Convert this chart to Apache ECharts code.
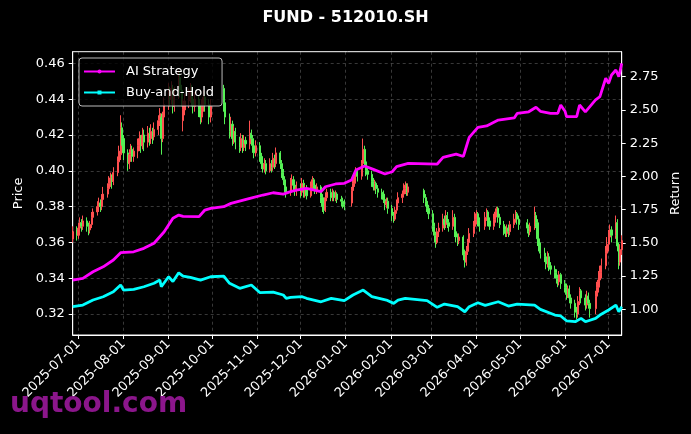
<!DOCTYPE html>
<html>
<head>
<meta charset="utf-8">
<script src="https://cdn.jsdelivr.net/npm/echarts@6/dist/echarts.min.js"></script>
<style>
html,body{margin:0;padding:0;background:#000;}
#main{width:691px;height:434px;}
</style>
</head>
<body>
<div id="main"></div>
<script>
// axis range (calendar days) and exchange holidays
var startDay = '2025-06-27';
var endDay = '2026-07-10';
var holidays = ['2025-10-01','2025-10-02','2025-10-03','2025-10-06','2025-10-07','2025-10-08',
	'2026-01-01','2026-01-02','2026-02-16','2026-02-17','2026-02-18','2026-02-19','2026-02-20','2026-02-23',
	'2026-04-06','2026-05-01','2026-05-04','2026-05-05','2026-06-19'];

// daily candles, one row per trading day: [open, close, low, high]
var candles = [
	// 2025-06
	[0.362,0.366,0.360,0.369],[0.367,0.364,0.361,0.369],
	// 2025-07
	[0.364,0.368,0.362,0.371],[0.368,0.371,0.366,0.374],[0.371,0.369,0.366,0.373],[0.369,0.372,0.367,0.375],
	[0.372,0.369,0.366,0.374],[0.369,0.367,0.364,0.371],[0.367,0.370,0.365,0.372],[0.370,0.374,0.368,0.377],[0.374,0.377,0.372,0.379],
	[0.377,0.380,0.375,0.383],[0.380,0.382,0.377,0.385],[0.382,0.380,0.377,0.384],[0.380,0.384,0.378,0.387],[0.384,0.387,0.382,0.391],
	[0.387,0.390,0.385,0.393],[0.390,0.393,0.388,0.397],[0.393,0.396,0.391,0.399],[0.396,0.394,0.390,0.398],[0.394,0.399,0.392,0.402],
	[0.399,0.405,0.397,0.408],[0.405,0.411,0.403,0.414],[0.409,0.424,0.406,0.431],[0.424,0.418,0.414,0.427],
	// 2025-08
	[0.418,0.410,0.406,0.420],
	[0.410,0.404,0.400,0.412],[0.404,0.409,0.401,0.412],[0.409,0.412,0.405,0.415],[0.412,0.408,0.405,0.414],[0.408,0.411,0.405,0.413],
	[0.411,0.414,0.407,0.418],[0.414,0.418,0.411,0.422],[0.418,0.414,0.410,0.420],[0.414,0.420,0.412,0.424],[0.420,0.416,0.411,0.423],
	[0.416,0.421,0.413,0.425],[0.421,0.418,0.414,0.424],[0.418,0.422,0.415,0.426],[0.422,0.419,0.415,0.424],[0.419,0.423,0.417,0.427],
	[0.423,0.428,0.420,0.431],[0.428,0.432,0.425,0.435],[0.430,0.418,0.409,0.432],[0.418,0.430,0.416,0.433],[0.430,0.437,0.428,0.441],
	// 2025-09
	[0.437,0.444,0.434,0.449],[0.444,0.440,0.436,0.447],[0.440,0.446,0.437,0.450],[0.446,0.436,0.432,0.448],[0.436,0.443,0.433,0.447],
	[0.443,0.452,0.440,0.456],[0.452,0.445,0.441,0.455],[0.445,0.440,0.436,0.448],[0.428,0.434,0.422,0.440],[0.434,0.439,0.431,0.443],
	[0.439,0.442,0.435,0.446],[0.442,0.445,0.438,0.449],[0.445,0.440,0.436,0.448],[0.440,0.436,0.432,0.443],[0.436,0.440,0.433,0.444],
	[0.440,0.434,0.430,0.442],[0.434,0.430,0.426,0.437],[0.430,0.436,0.427,0.440],[0.436,0.441,0.433,0.445],[0.441,0.437,0.433,0.444],
	[0.437,0.430,0.426,0.440],[0.430,0.436,0.427,0.440],
	// 2025-10
	[0.446,0.438,0.433,0.448],[0.438,0.430,0.426,0.440],
	[0.430,0.422,0.418,0.432],[0.422,0.426,0.419,0.430],[0.426,0.418,0.414,0.428],[0.418,0.422,0.415,0.425],[0.422,0.416,0.412,0.424],
	[0.416,0.413,0.410,0.419],[0.413,0.418,0.411,0.421],[0.418,0.413,0.410,0.420],[0.413,0.417,0.411,0.420],[0.417,0.415,0.411,0.419],
	[0.415,0.421,0.412,0.428],[0.421,0.418,0.414,0.423],[0.418,0.414,0.410,0.420],[0.414,0.410,0.407,0.416],[0.410,0.414,0.408,0.417],
	// 2025-11
	[0.414,0.408,0.405,0.416],[0.408,0.404,0.401,0.410],[0.404,0.401,0.399,0.406],[0.401,0.404,0.399,0.407],[0.404,0.400,0.398,0.406],
	[0.400,0.404,0.399,0.407],[0.404,0.402,0.399,0.406],[0.402,0.407,0.400,0.410],[0.407,0.404,0.401,0.409],[0.404,0.410,0.402,0.413],
	[0.410,0.404,0.401,0.411],[0.404,0.399,0.396,0.406],[0.399,0.395,0.392,0.401],[0.395,0.391,0.388,0.397],[0.391,0.388,0.385,0.393],
	[0.388,0.392,0.386,0.396],[0.392,0.395,0.389,0.398],[0.395,0.392,0.389,0.397],[0.392,0.389,0.386,0.394],[0.389,0.391,0.386,0.394],
	// 2025-12
	[0.391,0.388,0.385,0.393],[0.388,0.393,0.386,0.396],[0.393,0.387,0.385,0.395],[0.387,0.390,0.385,0.392],[0.390,0.386,0.384,0.392],
	[0.386,0.391,0.385,0.394],[0.391,0.395,0.389,0.397],[0.395,0.392,0.389,0.396],[0.392,0.389,0.387,0.394],[0.389,0.391,0.387,0.393],
	[0.391,0.385,0.382,0.392],[0.385,0.380,0.377,0.387],[0.380,0.378,0.376,0.383],[0.378,0.385,0.377,0.388],[0.385,0.388,0.383,0.390],
	[0.388,0.385,0.383,0.390],[0.385,0.388,0.383,0.390],[0.388,0.385,0.383,0.389],[0.385,0.387,0.383,0.389],[0.387,0.384,0.382,0.388],
	[0.384,0.383,0.380,0.386],[0.383,0.381,0.379,0.385],[0.381,0.380,0.378,0.384],
	// 2026-01
	[0.382,0.389,0.380,0.391],[0.389,0.393,0.387,0.395],[0.393,0.397,0.391,0.399],[0.397,0.400,0.394,0.402],[0.400,0.397,0.394,0.401],
	[0.397,0.404,0.395,0.406],[0.404,0.412,0.401,0.418],[0.412,0.405,0.402,0.414],[0.405,0.400,0.397,0.407],[0.400,0.398,0.395,0.402],
	[0.398,0.394,0.391,0.400],[0.394,0.391,0.389,0.396],[0.391,0.393,0.389,0.395],[0.393,0.390,0.387,0.394],[0.390,0.388,0.385,0.392],
	[0.388,0.387,0.384,0.390],[0.387,0.384,0.382,0.389],[0.384,0.381,0.378,0.386],[0.381,0.383,0.379,0.385],[0.383,0.379,0.376,0.385],
	// 2026-02
	[0.379,0.375,0.372,0.381],[0.375,0.373,0.371,0.377],[0.373,0.378,0.372,0.380],[0.378,0.382,0.376,0.384],[0.382,0.385,0.380,0.388],
	[0.385,0.387,0.382,0.389],[0.387,0.390,0.385,0.393],[0.390,0.392,0.387,0.394],[0.392,0.388,0.386,0.393],[0.388,0.391,0.386,0.393],
	[0.389,0.385,0.382,0.390],[0.385,0.383,0.380,0.387],[0.383,0.379,0.377,0.385],[0.379,0.376,0.373,0.381],
	// 2026-03
	[0.376,0.369,0.366,0.378],[0.369,0.364,0.360,0.371],[0.364,0.360,0.357,0.366],[0.360,0.366,0.359,0.368],[0.366,0.368,0.363,0.371],
	[0.368,0.373,0.366,0.376],[0.373,0.370,0.367,0.375],[0.370,0.375,0.368,0.378],[0.375,0.371,0.368,0.377],[0.371,0.369,0.366,0.373],
	[0.369,0.374,0.367,0.378],[0.374,0.366,0.363,0.376],[0.366,0.363,0.360,0.368],[0.363,0.361,0.358,0.365],[0.361,0.363,0.359,0.365],
	[0.363,0.353,0.350,0.364],[0.353,0.349,0.346,0.356],[0.349,0.355,0.347,0.358],[0.355,0.360,0.353,0.362],[0.360,0.365,0.358,0.368],
	[0.365,0.369,0.363,0.372],[0.369,0.373,0.367,0.377],
	// 2026-04
	[0.373,0.376,0.370,0.378],[0.376,0.372,0.369,0.377],[0.372,0.369,0.366,0.374],
	[0.369,0.374,0.367,0.377],[0.374,0.377,0.372,0.379],[0.377,0.372,0.369,0.378],[0.372,0.369,0.367,0.374],
	[0.369,0.373,0.367,0.376],[0.373,0.377,0.371,0.379],[0.377,0.379,0.374,0.380],[0.379,0.374,0.371,0.380],[0.374,0.370,0.368,0.376],
	[0.370,0.367,0.364,0.372],[0.367,0.365,0.363,0.369],[0.365,0.368,0.363,0.370],[0.368,0.366,0.363,0.370],[0.366,0.370,0.364,0.372],
	[0.370,0.373,0.368,0.376],[0.373,0.376,0.371,0.378],[0.376,0.373,0.370,0.377],[0.373,0.370,0.367,0.375],
	// 2026-05
	[0.371,0.368,0.365,0.373],[0.368,0.366,0.363,0.370],[0.366,0.369,0.364,0.371],
	[0.369,0.375,0.367,0.380],[0.375,0.371,0.368,0.377],[0.371,0.362,0.358,0.373],[0.362,0.358,0.355,0.364],[0.358,0.354,0.351,0.360],
	[0.354,0.352,0.349,0.357],[0.352,0.348,0.345,0.354],[0.348,0.352,0.346,0.355],[0.352,0.347,0.344,0.354],[0.347,0.345,0.342,0.349],
	[0.345,0.343,0.340,0.347],[0.343,0.340,0.337,0.345],[0.340,0.338,0.335,0.342],[0.338,0.342,0.336,0.344],[0.342,0.337,0.334,0.343],
	// 2026-06
	[0.337,0.335,0.332,0.339],[0.335,0.331,0.328,0.337],[0.331,0.334,0.329,0.336],[0.334,0.329,0.326,0.336],[0.329,0.326,0.323,0.331],
	[0.326,0.321,0.318,0.328],[0.321,0.320,0.317,0.324],[0.320,0.327,0.318,0.330],[0.327,0.333,0.325,0.335],[0.333,0.329,0.326,0.334],
	[0.329,0.325,0.322,0.331],[0.325,0.330,0.323,0.333],[0.330,0.326,0.323,0.332],[0.326,0.323,0.318,0.328],
	[0.323,0.330,0.320,0.333],[0.330,0.335,0.327,0.338],[0.335,0.339,0.332,0.344],[0.339,0.343,0.336,0.347],[0.343,0.347,0.340,0.351],
	[0.347,0.354,0.345,0.358],[0.354,0.359,0.351,0.363],
	// 2026-07
	[0.359,0.363,0.355,0.367],[0.363,0.367,0.360,0.370],[0.367,0.364,0.360,0.369],
	[0.364,0.371,0.362,0.375],[0.371,0.358,0.355,0.373],[0.358,0.349,0.345,0.360],[0.349,0.356,0.347,0.359],[0.356,0.361,0.353,0.364]
];

// AI Strategy return curve
var aiDates = ['2025-06-27','2025-07-04','2025-07-11','2025-07-18','2025-07-25','2025-07-30','2025-08-08','2025-08-15',
	'2025-08-22','2025-08-29','2025-09-04','2025-09-08','2025-09-11','2025-09-22','2025-09-26','2025-09-30','2025-10-09',
	'2025-10-14','2025-10-27','2025-11-05','2025-11-12','2025-11-19','2025-11-24','2025-11-28','2025-12-05','2025-12-15',
	'2025-12-18','2025-12-25','2025-12-31','2026-01-05','2026-01-08','2026-01-14','2026-01-20','2026-01-28','2026-02-02',
	'2026-02-05','2026-02-13','2026-03-05','2026-03-09','2026-03-18','2026-03-23','2026-03-25','2026-03-27','2026-04-02',
	'2026-04-08','2026-04-16','2026-04-27','2026-04-29','2026-05-07','2026-05-12','2026-05-15','2026-05-22','2026-05-27',
	'2026-05-29','2026-06-01','2026-06-02','2026-06-09','2026-06-11','2026-06-15','2026-06-22','2026-06-25','2026-06-29',
	'2026-07-01','2026-07-03','2026-07-06','2026-07-08','2026-07-10'];
var aiValues = [1.22,1.233,1.283,1.32,1.371,1.426,1.433,1.459,
	1.497,1.584,1.685,1.709,1.70,1.697,1.747,1.76,1.772,
	1.797,1.835,1.86,1.877,1.867,1.885,1.897,1.91,1.885,
	1.922,1.943,1.948,1.973,2.048,2.078,2.053,2.018,2.035,
	2.073,2.098,2.093,2.143,2.168,2.15,2.223,2.294,2.369,
	2.38,2.424,2.44,2.474,2.486,2.52,2.49,2.474,2.474,
	2.537,2.49,2.449,2.449,2.537,2.486,2.575,2.60,2.738,
	2.70,2.763,2.80,2.75,2.85];

// Buy-and-Hold return curve
var bhDates = ['2025-06-27','2025-07-04','2025-07-11','2025-07-18','2025-07-25','2025-07-30','2025-08-01','2025-08-08',
	'2025-08-15','2025-08-22','2025-08-26','2025-08-27','2025-09-01','2025-09-04','2025-09-08','2025-09-11','2025-09-16',
	'2025-09-23','2025-09-30','2025-10-09','2025-10-13','2025-10-20','2025-10-28','2025-11-03','2025-11-12','2025-11-19',
	'2025-11-21','2025-11-24','2025-12-02','2025-12-05','2025-12-15','2025-12-22','2025-12-31','2026-01-06','2026-01-13',
	'2026-01-19','2026-01-29','2026-02-03','2026-02-06','2026-02-11','2026-02-26','2026-03-05','2026-03-10','2026-03-19',
	'2026-03-24','2026-03-27','2026-04-02','2026-04-07','2026-04-16','2026-04-23','2026-04-29','2026-05-11','2026-05-12',
	'2026-05-15','2026-05-25','2026-05-29','2026-06-02','2026-06-08','2026-06-12','2026-06-15','2026-06-22','2026-06-25',
	'2026-07-01','2026-07-06','2026-07-08','2026-07-10'];
var bhValues = [1.02,1.032,1.07,1.095,1.132,1.183,1.145,1.15,
	1.17,1.196,1.22,1.17,1.245,1.21,1.275,1.25,1.24,
	1.22,1.245,1.25,1.196,1.158,1.183,1.125,1.13,1.108,
	1.083,1.09,1.095,1.083,1.057,1.083,1.065,1.108,1.145,
	1.095,1.07,1.045,1.07,1.083,1.065,1.015,1.04,1.02,
	0.982,1.02,1.05,1.03,1.057,1.025,1.04,1.032,1.04,
	1.0,0.957,0.95,0.914,0.907,0.932,0.907,0.932,0.957,
	0.995,1.032,0.982,1.02];

// axis tick values
var priceTicks = [0.32,0.34,0.36,0.38,0.40,0.42,0.44,0.46];
var returnTicks = [1.00,1.25,1.50,1.75,2.00,2.25,2.50,2.75];

function pad(n){ return n < 10 ? '0' + n : '' + n; }

//日历天，交易日
var days = [];
var tradeDays = [];
(function(){
	var d = new Date(startDay + 'T00:00:00Z');
	var end = new Date(endDay + 'T00:00:00Z');
	while (d <= end) {
		var s = d.getUTCFullYear() + '-' + pad(d.getUTCMonth() + 1) + '-' + pad(d.getUTCDate());
		days.push(s);
		var wd = d.getUTCDay();
		if (wd != 0 && wd != 6 && holidays.indexOf(s) < 0) {
			tradeDays.push(s);
		}
		d.setUTCDate(d.getUTCDate() + 1);
	}
})();

var candleMap = {};
for (var i = 0; i < tradeDays.length && i < candles.length; i++) {
	candleMap[tradeDays[i]] = candles[i];
}
var kData = days.map(function(s){ return candleMap[s] || ['-','-','-','-']; });
var aiData = aiDates.map(function(s, i){ return [s, aiValues[i]]; });
var bhData = bhDates.map(function(s, i){ return [s, bhValues[i]]; });

function isMonthStart(idx, val){ return val.slice(8) === '01'; }

var chart = echarts.init(document.getElementById('main'));
var font = 'DejaVu Sans';
var gridLine = {show: true, lineStyle: {color: 'rgba(255,255,255,0.28)', type: [3, 3], width: 0.8}};
var option = {
	backgroundColor: '#000',
	animation: false,
	textStyle: {fontFamily: font},
	title: {
		text: 'FUND - 512010.SH',
		left: 'center',
		top: 5,
		textStyle: {color: '#fff', fontSize: 16, fontWeight: 'bold', fontFamily: font}
	},
	legend: {
		left: 79,
		top: 58,
		orient: 'vertical',
		padding: [6, 8, 6, 4],
		itemGap: 6,
		itemWidth: 31,
		itemHeight: 5,
		backgroundColor: 'rgba(0,0,0,0.8)',
		borderColor: 'rgba(220,220,220,0.85)',
		borderWidth: 1,
		borderRadius: 3,
		data: ['AI Strategy', 'Buy-and-Hold'],
		textStyle: {color: '#fff', fontSize: 13, fontFamily: font, padding: [0, 0, 0, 6], lineHeight: 15}
	},
	grid: {
		left: 72.7, right: 69.3, top: 51.7, bottom: 99,
		show: true, borderColor: '#fff', borderWidth: 1, backgroundColor: 'transparent'
	},
	xAxis: {
		type: 'category',
		data: days,
		boundaryGap: false,
		axisLine: {lineStyle: {color: '#fff'}},
		axisTick: {interval: isMonthStart, length: 4, lineStyle: {color: '#fff'}},
		axisLabel: {interval: isMonthStart, rotate: 45, margin: 7, color: '#fff', fontSize: 13, fontFamily: font},
		splitLine: {show: true, interval: isMonthStart, lineStyle: gridLine.lineStyle}
	},
	yAxis: [
		{
			type: 'value',
			min: 0.3083,
			max: 0.4665,
			splitNumber: 8,
			name: 'Price',
			nameLocation: 'middle',
			nameGap: 46,
			nameTextStyle: {color: '#fff', fontSize: 13, fontFamily: font},
			axisLine: {show: true, lineStyle: {color: '#fff'}},
			axisTick: {show: true, length: 4, customValues: priceTicks, lineStyle: {color: '#fff'}},
			axisLabel: {customValues: priceTicks, margin: 8, color: '#fff', fontSize: 13, fontFamily: font,
				formatter: function(v){ return v.toFixed(2); }},
			splitLine: gridLine
		},
		{
			type: 'value',
			min: 0.807,
			max: 2.938,
			name: 'Return',
			nameLocation: 'middle',
			nameGap: 46,
			nameRotate: 90,
			nameTextStyle: {color: '#fff', fontSize: 13, fontFamily: font},
			axisLine: {show: true, lineStyle: {color: '#fff'}},
			axisTick: {show: true, length: 4, customValues: returnTicks, lineStyle: {color: '#fff'}},
			axisLabel: {customValues: returnTicks, margin: 8, color: '#fff', fontSize: 13, fontFamily: font,
				formatter: function(v){ return v.toFixed(2); }},
			splitLine: {show: false}
		}
	],
	graphic: [{
		type: 'text',
		left: 10,
		top: 391,
		z: 100,
		style: {text: 'uqtool.com', fill: '#8b168b', font: 'bold 28px "DejaVu Sans"'}
	}],
	series: [
		{
			name: 'Price',
			type: 'candlestick',
			data: kData,
			barWidth: 1.6,
			z: 1,
			itemStyle: {
				color: '#ff4f4f', color0: '#55f055',
				borderColor: '#ff4f4f', borderColor0: '#55f055',
				borderWidth: 1
			}
		},
		{
			name: 'AI Strategy',
			type: 'line',
			yAxisIndex: 1,
			data: aiData,
			z: 5,
			symbol: 'circle',
			symbolSize: 4,
			showSymbol: false,
			itemStyle: {color: '#ff00ff'},
			lineStyle: {color: '#ff00ff', width: 2.8}
		},
		{
			name: 'Buy-and-Hold',
			type: 'line',
			yAxisIndex: 1,
			data: bhData,
			z: 5,
			symbol: 'rect',
			symbolSize: 4,
			showSymbol: false,
			itemStyle: {color: '#00ffff'},
			lineStyle: {color: '#00ffff', width: 2.8}
		}
	]
};
chart.setOption(option);
</script>
</body>
</html>
